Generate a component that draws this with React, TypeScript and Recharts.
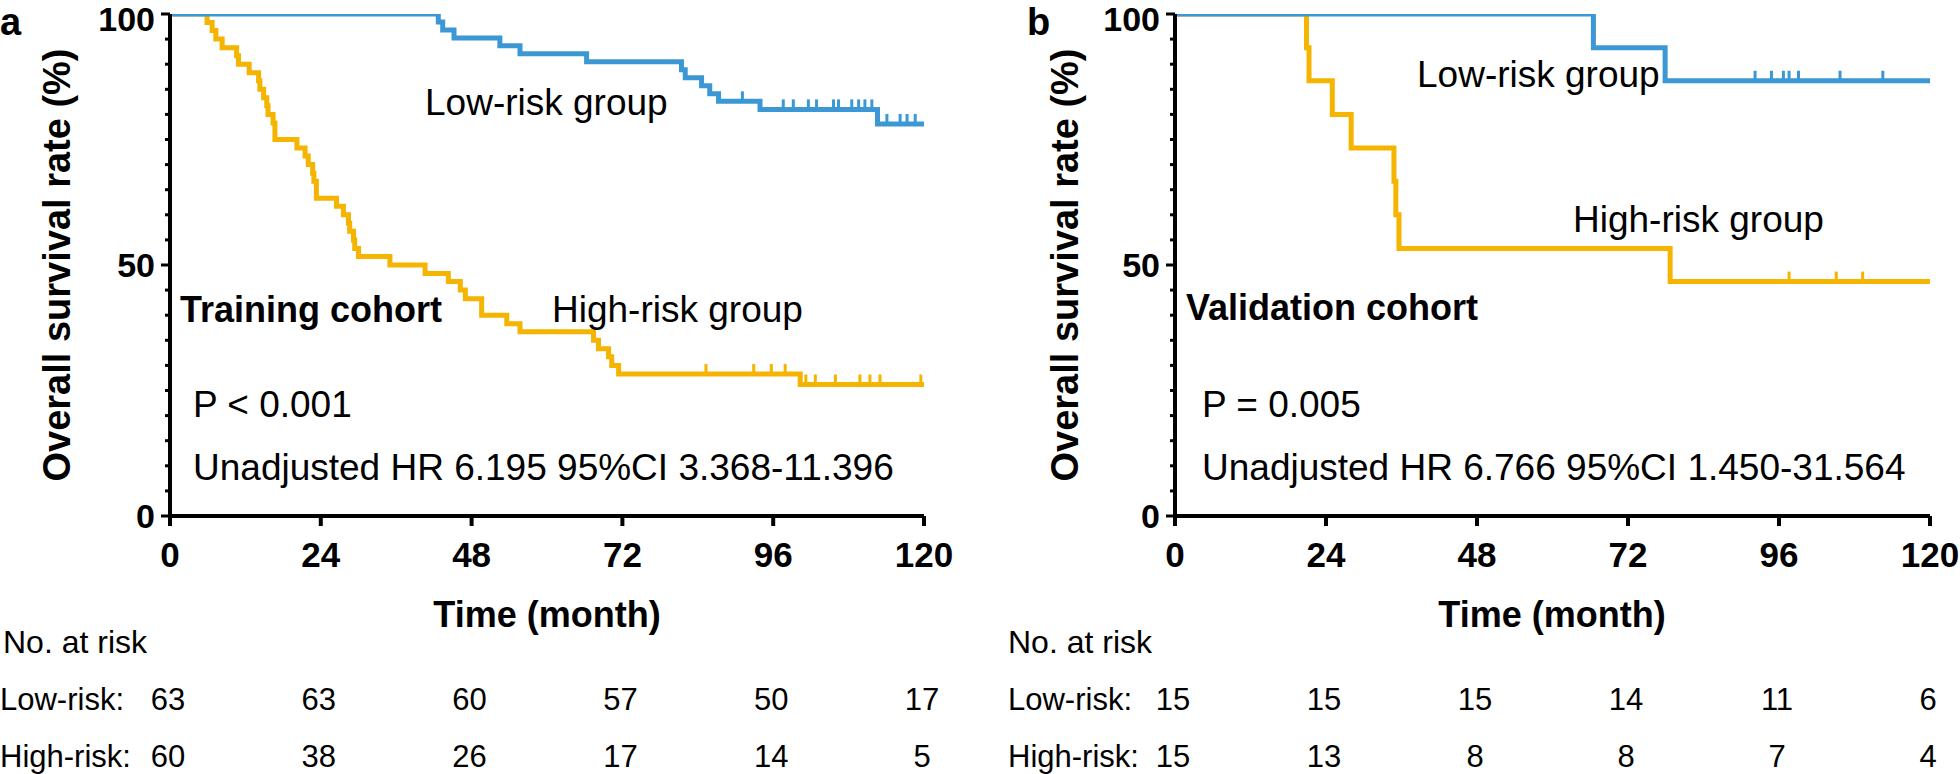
import React from 'react';
import { ComposedChart, Line, Scatter, XAxis, YAxis } from 'recharts';

const BLUE = '#3B98D5';
const ORANGE = '#F5B400';
const FONT = '"Liberation Sans", Arial, Helvetica, sans-serif';

const xTicks = [0, 24, 48, 72, 96, 120];
const yTicks = [0, 5, 10, 15, 20, 25, 30, 35, 40, 45, 50, 55, 60, 65, 70, 75, 80, 85, 90, 95, 100];
const yMajor = [0, 50, 100];

// ---- Panel a: training cohort ----
const lowA_t = [0, 42.7, 43.4, 45.2, 52.5, 55.7, 66.3, 81.4, 82.0, 84.6, 85.9, 87.3, 93.9, 112.6, 120];
const lowA_s = [100, 98.4, 96.8, 95.2, 93.7, 92.1, 90.5, 88.9, 87.3, 85.7, 84.1, 82.6, 81.0, 78.1, 78.1];
const lowA_cens_t = [91.1, 97.6, 99.2, 101.6, 102.9, 105.6, 106.4, 108.5, 109.6, 110.6, 111.7, 114.1, 116.2, 117.3, 118.6];
const lowA_cens_s = [82.6, 81.0, 81.0, 81.0, 81.0, 81.0, 81.0, 81.0, 81.0, 81.0, 81.0, 78.1, 78.1, 78.1, 78.1];

const highA_t = [0, 5.9, 6.7, 7.3, 8.3, 10.6, 10.9, 12.6, 14.1, 14.3, 14.9, 15.4, 15.6, 16.4, 16.7, 20.2, 21.5, 22.0, 22.7, 22.9, 23.3, 26.5, 27.6, 28.4, 28.6, 29.2, 29.4, 30.0, 35.0, 40.6, 44.3, 46.2, 47.0, 49.6, 53.6, 55.7, 67.4, 68.2, 69.8, 70.3, 71.4, 100.3, 120];
const highA_s = [100, 98.3, 96.7, 95.0, 93.3, 91.7, 90.0, 88.3, 86.7, 85.0, 83.3, 81.7, 80.0, 78.3, 75.0, 73.3, 71.7, 70.0, 68.3, 66.7, 63.3, 61.7, 60.0, 58.3, 56.7, 55.0, 53.3, 51.7, 50.0, 48.3, 46.7, 45.0, 43.3, 40.0, 38.3, 36.7, 35.0, 33.3, 31.7, 30.0, 28.3, 26.2, 26.2];
const highA_cens_t = [85.3, 92.9, 95.7, 97.9, 101.2, 102.7, 105.9, 109.8, 111.4, 113.0, 119.5];
const highA_cens_s = [28.3, 28.3, 28.3, 28.3, 26.2, 26.2, 26.2, 26.2, 26.2, 26.2, 26.2];

const riskLowA = [63, 63, 60, 57, 50, 17];
const riskHighA = [60, 38, 26, 17, 14, 5];

// ---- Panel b: validation cohort ----
const lowB_t = [0, 66.5, 77.9, 120];
const lowB_s = [100, 93.3, 86.7, 86.7];
const lowB_cens_t = [92.2, 94.8, 96.7, 97.6, 99.1, 105.7, 112.5];
const lowB_cens_s = [86.7, 86.7, 86.7, 86.7, 86.7, 86.7, 86.7];

const highB_t = [0, 20.9, 21.3, 25.0, 28.0, 34.8, 35.1, 35.6, 78.7, 120];
const highB_s = [100, 93.3, 86.7, 80.0, 73.3, 66.7, 60.0, 53.3, 46.7, 46.7];
const highB_cens_t = [97.6, 105.1, 109.3];
const highB_cens_s = [46.7, 46.7, 46.7];

const riskLowB = [15, 15, 15, 14, 11, 6];
const riskHighB = [15, 13, 8, 8, 7, 4];

const zip = (t: number[], s: number[]) => t.map((v, i) => ({ t: v, s: s[i] }));

const RISK_LOW_Y = 710;
const RISK_HIGH_Y = 767;

const XTick = (props: any) => {
  const { x, y, payload, riskLow, riskHigh } = props;
  const i = xTicks.indexOf(payload.value);
  return (
    <g>
      <line x1={x} y1={y} x2={x} y2={y + 10} stroke="#000" strokeWidth={4} />
      <text x={x} y={y + 51} textAnchor="middle" fontFamily={FONT} fontWeight="bold" fontSize={35} fill="#000">
        {payload.value}
      </text>
      <text x={x - 2} y={RISK_LOW_Y} textAnchor="middle" fontFamily={FONT} fontSize={31} fill="#000">
        {riskLow[i]}
      </text>
      <text x={x - 2} y={RISK_HIGH_Y} textAnchor="middle" fontFamily={FONT} fontSize={31} fill="#000">
        {riskHigh[i]}
      </text>
    </g>
  );
};

const YTick = (props: any) => {
  const { x, y, payload } = props;
  const major = yMajor.includes(payload.value);
  const len = major ? 9 : 5;
  const baseline = Math.max(y + 12, 31);
  return (
    <g>
      <line x1={x - len} y1={y} x2={x} y2={y} stroke="#000" strokeWidth={3} />
      {major && (
        <text x={x - 15} y={baseline} textAnchor="end" fontFamily={FONT} fontWeight="bold" fontSize={34} fill="#000">
          {payload.value}
        </text>
      )}
    </g>
  );
};

const CensorMark = (color: string) => (p: any) => (
  <line x1={p.cx} y1={p.cy} x2={p.cx} y2={p.cy - 10} stroke={color} strokeWidth={3} />
);

type PanelProps = {
  left: number;
  marginLeft: number;
  marginRight: number;
  low: { t: number; s: number }[];
  high: { t: number; s: number }[];
  lowCens: { t: number; s: number }[];
  highCens: { t: number; s: number }[];
  riskLow: number[];
  riskHigh: number[];
};

const KMPanel = (p: PanelProps) => (
  <div style={{ position: 'absolute', left: p.left, top: 0, width: 980, height: 774 }}>
    <ComposedChart
      width={980}
      height={774}
      margin={{ top: 14, right: p.marginRight, bottom: 198, left: p.marginLeft }}
    >
      <XAxis
        type="number"
        dataKey="t"
        domain={[0, 120]}
        ticks={xTicks}
        interval={0}
        tickSize={0}
        tickMargin={0}
        tickLine={false}
        axisLine={{ stroke: '#000', strokeWidth: 4 }}
        height={60}
        tick={(tp: any) => <XTick {...tp} riskLow={p.riskLow} riskHigh={p.riskHigh} />}
        allowDataOverflow
      />
      <YAxis
        type="number"
        domain={[0, 100]}
        ticks={yTicks}
        interval={0}
        tickSize={0}
        tickMargin={0}
        tickLine={false}
        axisLine={{ stroke: '#000', strokeWidth: 4 }}
        width={100}
        tick={(tp: any) => <YTick {...tp} />}
        allowDataOverflow
      />
      <Line
        data={p.high}
        dataKey="s"
        type="stepAfter"
        stroke={ORANGE}
        strokeWidth={5}
        dot={false}
        activeDot={false}
        isAnimationActive={false}
      />
      <Scatter data={p.highCens} dataKey="s" shape={CensorMark(ORANGE)} isAnimationActive={false} />
      <Line
        data={p.low}
        dataKey="s"
        type="stepAfter"
        stroke={BLUE}
        strokeWidth={5}
        dot={false}
        activeDot={false}
        isAnimationActive={false}
      />
      <Scatter data={p.lowCens} dataKey="s" shape={CensorMark(BLUE)} isAnimationActive={false} />
    </ComposedChart>
  </div>
);

const T = (props: any) => {
  const { x, y, bold, size, children, anchor, rotate } = props;
  return (
    <text
      x={x}
      y={y}
      fontFamily={FONT}
      fontWeight={bold ? 'bold' : 'normal'}
      fontSize={size}
      fill="#000"
      textAnchor={anchor || 'start'}
      transform={rotate ? `rotate(-90 ${x} ${y})` : undefined}
    >
      {children}
    </text>
  );
};

export default function App() {
  return (
    <div style={{ position: 'absolute', left: 0, top: 0, width: 1960, height: 774, background: '#fff', overflow: 'hidden' }}>
      <KMPanel
        left={0}
        marginLeft={70}
        marginRight={56}
        low={zip(lowA_t, lowA_s)}
        high={zip(highA_t, highA_s)}
        lowCens={zip(lowA_cens_t, lowA_cens_s)}
        highCens={zip(highA_cens_t, highA_cens_s)}
        riskLow={riskLowA}
        riskHigh={riskHighA}
      />
      <KMPanel
        left={980}
        marginLeft={95}
        marginRight={30}
        low={zip(lowB_t, lowB_s)}
        high={zip(highB_t, highB_s)}
        lowCens={zip(lowB_cens_t, lowB_cens_s)}
        highCens={zip(highB_cens_t, highB_cens_s)}
        riskLow={riskLowB}
        riskHigh={riskHighB}
      />
      <svg
        width={1960}
        height={774}
        style={{ position: 'absolute', left: 0, top: 0, pointerEvents: 'none' }}
      >
        {/* Panel a */}
        <T x={0} y={35} bold size={38}>a</T>
        <T x={70} y={265} bold size={38} anchor="middle" rotate>Overall survival rate (%)</T>
        <T x={547} y={627} bold size={36} anchor="middle">Time (month)</T>
        <T x={425} y={115} size={37}>Low-risk group</T>
        <T x={180} y={322} bold size={36}>Training cohort</T>
        <T x={552} y={322} size={37}>High-risk group</T>
        <T x={193} y={417} size={37}>P &lt; 0.001</T>
        <T x={193} y={480} size={37}>Unadjusted HR 6.195 95%CI 3.368-11.396</T>
        <T x={3} y={653} size={32}>No. at risk</T>
        <T x={0} y={RISK_LOW_Y} size={31}>Low-risk:</T>
        <T x={0} y={RISK_HIGH_Y} size={31}>High-risk:</T>

        {/* Panel b */}
        <T x={1027} y={35} bold size={38}>b</T>
        <T x={1078} y={265} bold size={38} anchor="middle" rotate>Overall survival rate (%)</T>
        <T x={1552} y={627} bold size={36} anchor="middle">Time (month)</T>
        <T x={1417} y={87} size={37}>Low-risk group</T>
        <T x={1573} y={232} size={37}>High-risk group</T>
        <T x={1186} y={320} bold size={36}>Validation cohort</T>
        <T x={1202} y={417} size={37}>P = 0.005</T>
        <T x={1202} y={480} size={37}>Unadjusted HR 6.766 95%CI 1.450-31.564</T>
        <T x={1008} y={653} size={32}>No. at risk</T>
        <T x={1008} y={RISK_LOW_Y} size={31}>Low-risk:</T>
        <T x={1008} y={RISK_HIGH_Y} size={31}>High-risk:</T>
      </svg>
    </div>
  );
}
